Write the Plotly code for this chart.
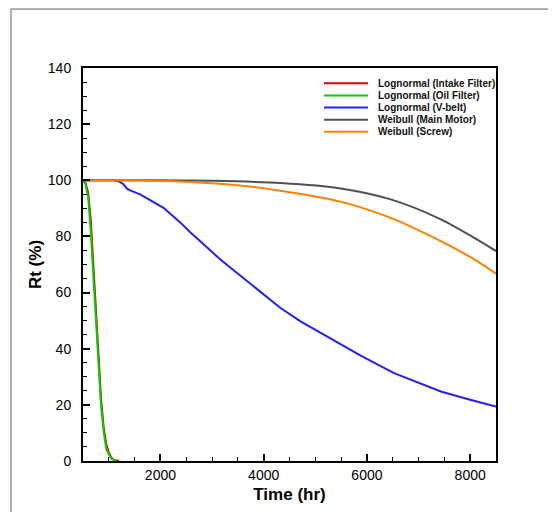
import plotly.graph_objects as go

# ---- data ----
series_names = [
    "Lognormal (Intake Filter)",
    "Lognormal (Oil Filter)",
    "Lognormal (V-belt)",
    "Weibull (Main Motor)",
    "Weibull (Screw)",
]
series_colors = ["#e00000", "#00d000", "#2020ff", "#505050", "#ff8000"]

t_intake = [500, 550, 600, 650, 700, 750, 800, 850, 900, 950, 1000, 1050, 1100, 1150, 1200]
r_intake = [100, 99, 95.5, 86, 70, 53, 37, 22, 12, 6, 3, 1.2, 0.4, 0.1, 0]

t_oil = [500, 550, 600, 650, 700, 750, 800, 850, 900, 950, 1000, 1050, 1100, 1150]
r_oil = [100, 98.5, 94, 82, 66, 49, 33, 19.5, 10.5, 4.5, 2.3, 0.9, 0.3, 0]

t_vbelt = [500, 1089, 1200, 1283, 1350, 1413, 1607, 2060, 2383, 2578, 3160, 3678, 4325,
           4714, 5300, 5879, 6526, 7000, 7432, 8000, 8466, 8500]
r_vbelt = [100, 100, 99.6, 98.6, 97, 96.4, 95, 90.2, 85, 81.5, 71.8, 64, 54.5,
           49.75, 43.5, 37.5, 31.3, 27.8, 24.75, 21.8, 19.6, 19.4]

t_motor = [500, 2000, 3000, 4325, 5490, 6461, 7432, 8079, 8500]
r_motor = [100, 100, 99.8, 99.0, 97.1, 93.2, 86.1, 79.5, 74.8]

t_screw = [500, 1500, 2384, 3678, 4325, 5490, 6461, 7432, 8079, 8500]
r_screw = [100, 99.95, 99.6, 97.9, 96.3, 92.4, 86.6, 78.3, 71.8, 66.7]

x_ticks = [2000, 4000, 6000, 8000]
y_ticks = [0, 20, 40, 60, 80, 100, 120, 140]

all_t = [t_intake, t_oil, t_vbelt, t_motor, t_screw]
all_r = [r_intake, r_oil, r_vbelt, r_motor, r_screw]
line_shapes = ["linear", "linear", "linear", "spline", "spline"]

FONT = "Liberation Sans, Arial, sans-serif"

fig = go.Figure()
order = [2, 3, 4, 0, 1]
for i in order:
    fig.add_trace(go.Scatter(
        x=all_t[i], y=all_r[i], mode="lines", name=series_names[i],
        line=dict(color=series_colors[i], width=2, shape=line_shapes[i], smoothing=0.8),
        showlegend=False,
    ))

# custom compact legend (inside plot, top right)
leg_x0, leg_x1, leg_tx = 0.5835, 0.690, 0.7094
leg_y0, leg_dy = 0.961, 0.0308
shapes = []
annotations = []
for k, (nm, col) in enumerate(zip(series_names, series_colors)):
    yy = leg_y0 - k * leg_dy
    shapes.append(dict(type="line", xref="paper", yref="paper",
                       x0=leg_x0, x1=leg_x1, y0=yy, y1=yy,
                       line=dict(color=col, width=2)))
    annotations.append(dict(xref="paper", yref="paper", x=leg_tx, y=yy,
                            text="<b>" + nm + "</b>", showarrow=False,
                            xanchor="left", yanchor="middle",
                            font=dict(family=FONT, size=10, color="#111")))

# outer thin frame of the figure
shapes.append(dict(type="rect", xref="paper", yref="paper",
                   x0=-0.1743, x1=1.3, y0=-0.3, y1=1.15,
                   line=dict(color="#606060", width=1), fillcolor="rgba(0,0,0,0)",
                   layer="below"))

fig.update_layout(
    width=548, height=504,
    margin=dict(l=75, r=60, t=60, b=51),
    paper_bgcolor="white", plot_bgcolor="white",
    font=dict(family=FONT, size=14, color="black"),
    shapes=shapes, annotations=annotations,
    showlegend=False,
)
fig.update_xaxes(
    range=[500, 8500], tickvals=x_ticks, ticktext=[str(v) for v in x_ticks],
    ticks="inside", ticklen=7, tickwidth=1.5, tickcolor="black",
    minor=dict(dtick=500, tick0=0, ticks="inside", ticklen=4, tickcolor="black", tickwidth=1),
    showline=True, linecolor="black", linewidth=2, mirror=True,
    showgrid=False, zeroline=False,
    tickfont=dict(size=14),
    title=dict(text="<b>Time (hr)</b>", font=dict(size=17), standoff=6),
)
fig.update_yaxes(
    range=[0, 140], tickvals=y_ticks, ticktext=[str(v) for v in y_ticks],
    ticks="inside", ticklen=7, tickwidth=1.5, tickcolor="black",
    minor=dict(dtick=5, tick0=0, ticks="inside", ticklen=4, tickcolor="black", tickwidth=1),
    showline=True, linecolor="black", linewidth=2, mirror=True,
    showgrid=False, zeroline=False,
    tickfont=dict(size=14), ticklabelstandoff=7,
    title=dict(text="<b>Rt (%)</b>", font=dict(size=17), standoff=2),
)

fig.write_html("out.html")
